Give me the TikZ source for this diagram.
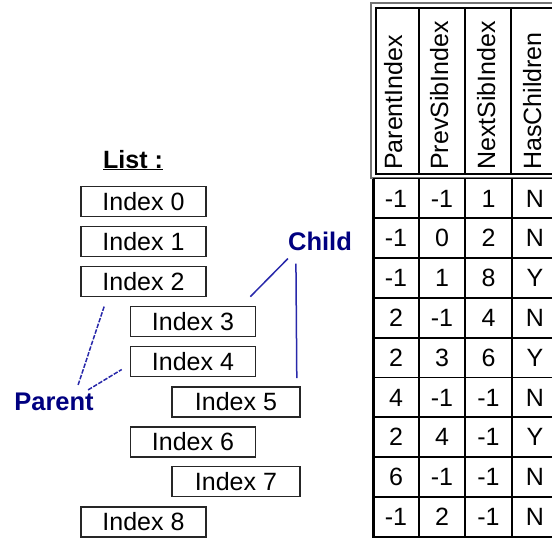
\documentclass[tikz,border=0pt]{standalone}
\usepackage{fontspec}
\setmainfont{Liberation Sans}
\usetikzlibrary{calc}
\definecolor{navytext}{RGB}{0,0,128}
\definecolor{navyline}{RGB}{40,40,170}
\begin{document}
\begin{tikzpicture}[x=1pt,y=-1pt,
  every node/.style={font=\fontsize{25}{30}\selectfont},
  idxbox/.style={draw=black!85, line width=1.6pt, minimum height=30pt, inner sep=0pt},
  narrowbox/.style={idxbox, minimum width=125pt},
  widebox/.style={idxbox, minimum width=128pt},
  tag/.style={font=\fontsize{25.5}{30}\selectfont\bfseries, text=navytext, inner sep=0pt},
  guide/.style={draw=navyline, line width=1.5pt},
  parentguide/.style={guide, dash pattern=on 4.5pt off 1.5pt},
  hdr/.style={rotate=90, anchor=base west, inner sep=0pt},
  cell/.style={inner sep=0pt},
  gridline/.style={draw=black, line width=1.8pt},
]
\useasboundingbox (0,0) rectangle (552,538);
\clip (0,0) rectangle (552,538);

% ---- list of entries ----
\node[inner sep=0pt, anchor=base, font=\fontsize{25}{30}\selectfont\bfseries] (list) at (133,168) {\underline{List :}};
\node[narrowbox] (i0) at (143.5,201.5) {Index 0};
\node[narrowbox] (i1) at (143.5,241.5) {Index 1};
\node[narrowbox] (i2) at (143.5,281.5) {Index 2};
\node[narrowbox] (i3) at (193,321.5) {Index 3};
\node[narrowbox] (i4) at (193,361.5) {Index 4};
\node[widebox]   (i5) at (236,402) {Index 5};
\node[narrowbox] (i6) at (193,442) {Index 6};
\node[widebox]   (i7) at (236,481.5) {Index 7};
\node[narrowbox] (i8) at (143.5,522) {Index 8};

% ---- labels and their guide lines ----
\node[tag] (child) at (320,241) {Child};
\node[tag] (parent) at (54,402) {Parent};

\coordinate (c1) at ($(child.south west)+(0,8)$);
\coordinate (c1e) at ($(i3.north east)+(-6,-9)$);
\coordinate (c2) at ($(child.south west)+(8,13)$);
\coordinate (c2e) at ($(i5.north east)+(-4,-8)$);
\draw[guide] (c1) -- (c1e);
\draw[guide] (c2) -- (c2e);

\coordinate (p1) at ($(parent.north west)+(64,-8)$);
\coordinate (p1e) at ($(i2.south west)+(24,9)$);
\coordinate (p2) at ($(parent.north west)+(74,-3)$);
\coordinate (p2e) at ($(i4.west)+(-8,8)$);
\draw[parentguide] (p1) -- (p1e);
\draw[parentguide] (p2) -- (p2e);

% ---- table header (double frame) ----
\draw[draw=black!55, line width=1.3pt] (371,3) rectangle (570,178);
\draw[draw=black, line width=1.5pt] (376,8) rectangle (570,174);
\foreach \x in {419,465,511}
  \draw[draw=black, line width=2.4pt] (\x,8) -- (\x,174);
\node[hdr] (hp) at (402,170) {ParentIndex};
\node[hdr] (hv) at (448,170) {PrevSibIndex};
\node[hdr] (hn) at (495,170) {NextSibIndex};
\node[hdr] (hc) at (541,170) {HasChildren};

% ---- table body ----
\foreach \k in {0,...,8}
  \draw[gridline] (373,178.5+39.8*\k) -- (570,178.5+39.8*\k);
\draw[draw=black, line width=2.5pt] (373,537) -- (570,537);
\draw[draw=black, line width=3pt] (373,178.5) -- (373,538);
\foreach \x in {419,465,512}
  \draw[gridline] (\x,178.5) -- (\x,538);

\foreach \a/\b/\c/\d [count=\r from 0] in {-1/-1/1/N, -1/0/2/N, -1/1/8/Y, 2/-1/4/N, 2/3/6/Y, 4/-1/-1/N, 2/4/-1/Y, 6/-1/-1/N, -1/2/-1/N} {
  \node[cell] (r\r a) at (396,198.4+39.8*\r) {\a};
  \node[cell] (r\r b) at (442,198.4+39.8*\r) {\b};
  \node[cell] (r\r c) at (488.5,198.4+39.8*\r) {\c};
  \node[cell] (r\r d) at (535,198.4+39.8*\r) {\d};
}
\end{tikzpicture}
\end{document}
